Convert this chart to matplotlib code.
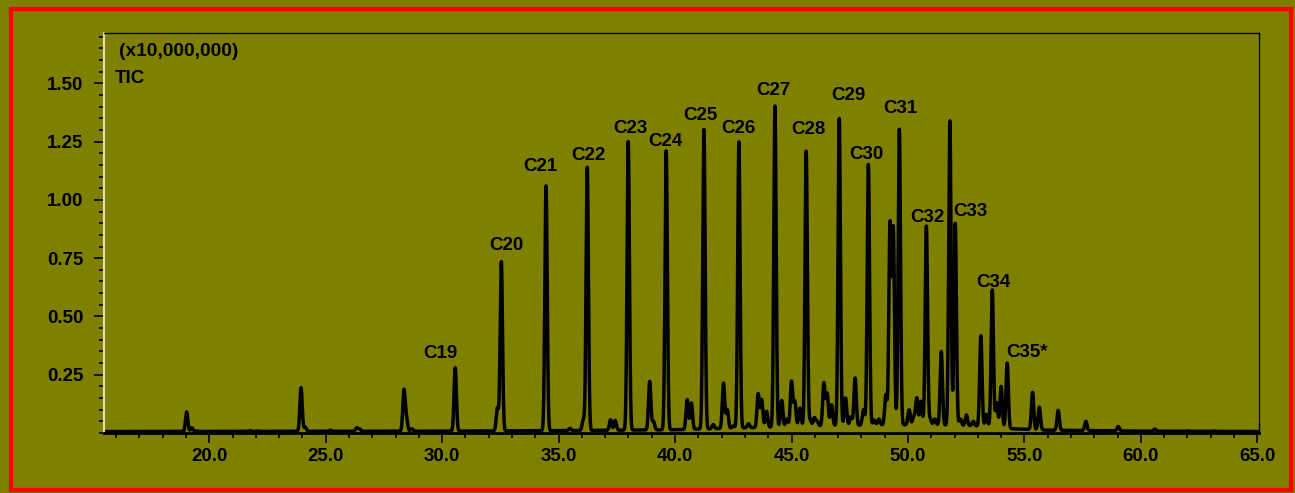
import numpy as np
import matplotlib
matplotlib.use('Agg')
import matplotlib.pyplot as plt
from matplotlib.patches import Rectangle
from matplotlib.ticker import MultipleLocator, FixedLocator, FormatStrFormatter

plt.rcParams['font.family'] = ['Liberation Sans', 'DejaVu Sans']
plt.rcParams['font.weight'] = 'bold'
plt.rcParams['font.size'] = 13.5

c_bg = '#808000'

# n-alkane peaks: label, retention time (min), apex intensity (x10,000,000)
alkane_labels = ['C19', 'C20', 'C21', 'C22', 'C23', 'C24', 'C25', 'C26', 'C27',
                 'C28', 'C29', 'C30', 'C31', 'C32', 'C33', 'C34', 'C35*']
alkane_rt = [30.56, 32.54, 34.46, 36.23, 37.99, 39.62, 41.24, 42.74, 44.29,
             45.63, 47.05, 48.30, 49.63, 50.79, 52.03, 53.62, 54.26]
alkane_height = [0.280, 0.735, 1.061, 1.140, 1.250, 1.211, 1.303, 1.250, 1.403,
                 1.210, 1.350, 1.153, 1.304, 0.888, 0.900, 0.614, 0.300]
# label anchor (rt, intensity at text baseline)
label_rt = [29.91, 32.74, 34.22, 36.29, 38.06, 39.60, 41.08, 42.73, 44.24,
            45.74, 47.46, 48.21, 49.69, 50.84, 52.70, 53.67, 55.11]
label_y = [0.323, 0.786, 1.124, 1.171, 1.288, 1.231, 1.343, 1.286, 1.448,
           1.283, 1.428, 1.174, 1.371, 0.907, 0.931, 0.626, 0.328]

# other resolved peaks
other_rt = [19.03, 19.25, 19.48, 21.75, 22.10, 23.94, 24.12, 25.20, 26.33, 26.45,
            28.36, 28.47, 28.70, 32.37, 35.49, 36.06, 37.23, 37.43, 38.91, 39.07,
            40.52, 40.70, 41.64, 42.08, 42.24, 42.50, 43.57, 43.72, 43.93, 44.58,
            45.00, 45.14, 45.36, 45.98, 46.39, 46.53, 46.72, 47.32, 47.73, 48.09,
            48.75, 49.05, 49.23, 49.37, 50.05, 50.38, 50.56, 50.95, 51.43, 51.80,
            52.51, 53.13, 53.37, 53.81, 54.00, 55.35, 55.64, 56.45, 57.64,
            59.03, 60.60, 62.00, 63.10,
            43.15, 44.80, 45.80, 46.10, 47.55, 48.55, 50.25, 51.15, 52.25, 52.80]
other_height = [0.090, 0.022, 0.008, 0.010, 0.006, 0.195, 0.025, 0.012, 0.022, 0.018,
                0.183, 0.060, 0.018, 0.107, 0.020, 0.057, 0.057, 0.054, 0.221, 0.050,
                0.143, 0.129, 0.036, 0.214, 0.100, 0.030, 0.168, 0.143, 0.093, 0.140,
                0.221, 0.135, 0.107, 0.065, 0.214, 0.168, 0.121, 0.150, 0.236, 0.100,
                0.060, 0.164, 0.893, 0.871, 0.100, 0.150, 0.136, 0.060, 0.350, 1.339,
                0.078, 0.418, 0.080, 0.130, 0.200, 0.174, 0.111, 0.097, 0.050,
                0.028, 0.017, 0.008, 0.006,
                0.040, 0.060, 0.055, 0.050, 0.070, 0.055, 0.070, 0.060, 0.060, 0.050]

# slowly rising baseline (unresolved hump)
base_rt = [15.0, 30.0, 35.0, 40.0, 43.0, 46.0, 49.0, 51.0, 53.0, 54.5, 56.0, 60.0, 66.0]
base_level = [0.006, 0.008, 0.010, 0.014, 0.022, 0.030, 0.035, 0.035, 0.030, 0.018,
              0.012, 0.008, 0.006]

sigma = 0.05

t = np.linspace(15.0, 66.0, 12000)
tic = np.interp(t, base_rt, base_level)
peak_rt = np.array(alkane_rt + other_rt)
peak_h = np.array(alkane_height + other_height)
# apex values are read on top of the baseline
amp = np.clip(peak_h - np.interp(peak_rt, base_rt, base_level), 0.002, None)
for rt, a in zip(peak_rt, amp):
    tic += a * np.exp(-0.5 * ((t - rt) / sigma) ** 2)

fig = plt.figure(figsize=(12.95, 4.93), dpi=100, facecolor=c_bg)
ax = fig.add_axes([104 / 1295, 1 - 433 / 493, (1258.7 - 104) / 1295, 400 / 493])
ax.set_facecolor(c_bg)

ax.plot(t, tic, color='black', lw=2.5, solid_joinstyle='round')

for lab, x, y in zip(alkane_labels, label_rt, label_y):
    ax.text(x, y, lab, ha='center', va='baseline', fontsize=13.5, fontweight='bold')

ax.set_xlim(15.48, 65.06)
ax.set_ylim(0, 1.716)

ax.xaxis.set_major_locator(MultipleLocator(5))
ax.xaxis.set_minor_locator(MultipleLocator(1))
ax.xaxis.set_major_formatter(FormatStrFormatter('%.1f'))
ax.yaxis.set_major_locator(FixedLocator([0.25, 0.50, 0.75, 1.00, 1.25, 1.50]))
ax.yaxis.set_minor_locator(MultipleLocator(0.05))
ax.yaxis.set_major_formatter(FormatStrFormatter('%.2f'))

ax.tick_params(which='major', length=7, width=1.2, color='black', labelsize=13.5, direction='out')
ax.tick_params(which='minor', length=3.5, width=1.2, color='black', direction='out')
ax.tick_params(axis='x', pad=4)
ax.tick_params(axis='y', pad=8)
for lab in ax.get_xticklabels() + ax.get_yticklabels():
    lab.set_fontweight('bold')

for side in ['top', 'right']:
    ax.spines[side].set_color('black')
    ax.spines[side].set_linewidth(1.0)
ax.spines['bottom'].set_color('black')
ax.spines['bottom'].set_linewidth(2.0)
ax.spines['left'].set_color('#e4e0b8')
ax.spines['left'].set_linewidth(1.5)

fig.text(119 / 1295, 1 - 56 / 493, '(x10,000,000)', fontsize=13.8, fontweight='bold',
         ha='left', va='baseline')
fig.text(115 / 1295, 1 - 82.7 / 493, 'TIC', fontsize=13.5, fontweight='bold',
         ha='left', va='baseline')

# red frame around the figure
fig.add_artist(Rectangle((10.8 / 1295, 1 - 489.5 / 493), (1290.5 - 10.8) / 1295,
                         (489.5 - 8.8) / 493, transform=fig.transFigure,
                         fill=False, edgecolor='#ff0000', linewidth=3.1))

fig.savefig('out.png', dpi=100, facecolor=c_bg)
